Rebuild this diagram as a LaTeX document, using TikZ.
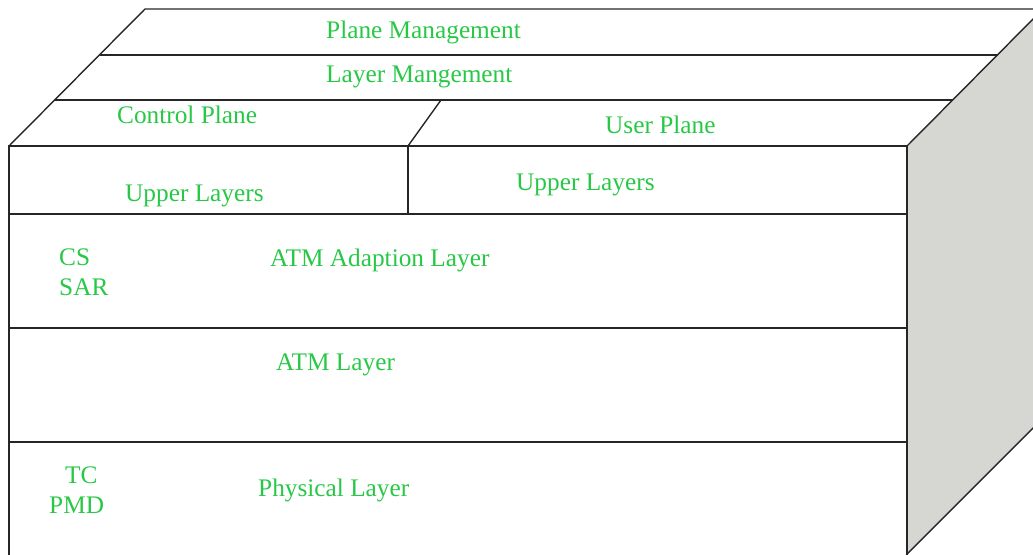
\documentclass[tikz,border=0pt]{standalone}
\usepackage{fontspec}
\setmainfont{Liberation Serif}
\definecolor{lbl}{RGB}{40,200,70}
\definecolor{side}{RGB}{214,214,211}
\begin{document}
\begin{tikzpicture}[x=1pt,y=-1pt,
  edge/.style={draw=black!85, line width=1.4pt},
  lbl/.style={text=lbl, font=\fontsize{25.3}{29}\selectfont, inner sep=0pt, anchor=base west}]
\useasboundingbox (0,0) rectangle (1033,554);
\begin{scope}
\clip (0,0) rectangle (1033,554);
% right side face
\fill[side] (907,146) -- (1040,12) -- (1040,421) -- (907,554) -- cycle;
\draw[edge] (907,146) -- (1040,12);
\draw[edge] (907,554) -- (1040,421);
% top face
\draw[edge] (9,146) -- (145,9) -- (1040,9);
\draw[edge] (100,55) -- (998,55);
\draw[edge] (55,100) -- (953,100);
\draw[edge] (441,100) -- (408,146);
% front face
\draw[edge] (9,560) -- (9,146) -- (907,146) -- (907,560);
\draw[edge] (408,146) -- (408,214);
\draw[edge] (9,214) -- (907,214);
\draw[edge] (9,328) -- (907,328);
\draw[edge] (9,442) -- (907,442);
\end{scope}
% labels
\node[lbl] (pm) at (326,38.5) {Plane Management};
\node[lbl] (lm) at (326,82.5) {Layer Mangement};
\node[lbl] (cp) at (117,123) {Control Plane};
\node[lbl] (up) at (605,133) {User Plane};
\node[lbl] (ul1) at (125,201.5) {Upper Layers};
\node[lbl] (ul2) at (516,190.5) {Upper Layers};
\node[lbl] (cs) at (59,265) {CS};
\node[lbl] (sar) at (59,295) {SAR};
\node[lbl] (aal) at (270,266) {ATM Adaption Layer};
\node[lbl] (atm) at (276,370.5) {ATM Layer};
\node[lbl] (tc) at (65,483) {TC};
\node[lbl] (pmd) at (49,513) {PMD};
\node[lbl] (phy) at (258,496.5) {Physical Layer};
\end{tikzpicture}
\end{document}
